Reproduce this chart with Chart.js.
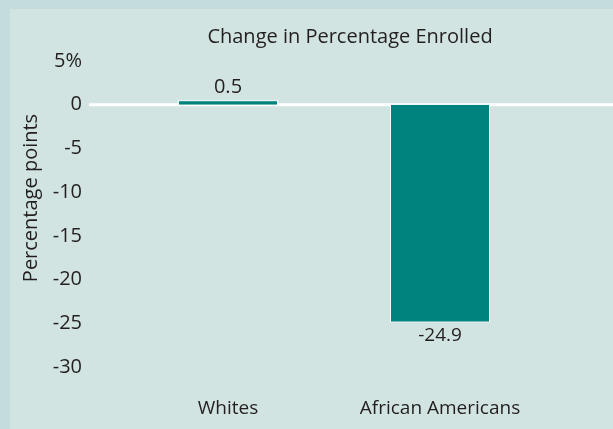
<!DOCTYPE html>
<html>
<head>
<meta charset="utf-8">
<script src="https://cdn.jsdelivr.net/npm/chart.js@4"></script>
<style>
  html, body { margin: 0; padding: 0; background: #c4dcdb; }
  #wrap { width: 613px; height: 429px; position: relative; }
</style>
</head>
<body>
<div id="wrap"><canvas id="my-chart" width="613" height="429"></canvas></div>
<script>
// Data
const categories = ["Whites", "African Americans"];
const changeValues = [0.5, -24.9];
const valueLabels = ["0.5", "-24.9"];
const yTicks = [5, 0, -5, -10, -15, -20, -25, -30];

const chartTitle = "Change in Percentage Enrolled";
const yTitle = "Percentage points";

const textColor = "#231f20";
const barColor = "#00837e";
const fontFamily = "'Open Sans', sans-serif";

// background, zero line, titles and value labels
const decorations = {
	id: "decorations",
	beforeDraw(chart) {
		const c = chart.ctx;
		c.save();
		c.fillStyle = "#c4dcdb";
		c.fillRect(0, 0, chart.width, chart.height);
		c.fillStyle = "#d1e4e2";
		c.fillRect(10, 9, chart.width - 10, chart.height - 9);
		c.restore();
	},
	beforeDatasetsDraw(chart) {
		const c = chart.ctx;
		const y0 = chart.scales.y.getPixelForValue(0);
		c.save();
		c.strokeStyle = "#ffffff";
		c.lineWidth = 3;
		c.beginPath();
		c.moveTo(89, y0);
		c.lineTo(chart.width, y0);
		c.stroke();
		c.restore();
	},
	afterDatasetsDraw(chart) {
		const c = chart.ctx;
		c.save();
		c.fillStyle = textColor;
		c.textAlign = "center";
		chart.getDatasetMeta(0).data.forEach((bar, i) => {
			if (changeValues[i] >= 0) {
				c.font = "20px " + fontFamily;
				c.textBaseline = "bottom";
				c.fillText(valueLabels[i], bar.x, bar.y - 3);
			} else {
				c.font = "19px " + fontFamily;
				c.textBaseline = "top";
				c.fillText(valueLabels[i], bar.x, bar.y + 4);
			}
		});

		c.textBaseline = "middle";
		c.font = "20px " + fontFamily;
		c.fillText(chartTitle, 350, 37);

		c.translate(31, 198);
		c.rotate(-Math.PI / 2);
		c.font = "20px " + fontFamily;
		c.fillText(yTitle, 0, 0);
		c.restore();
	},
};

const ctx = document.getElementById("my-chart").getContext("2d");

new Chart(ctx, {
	type: "bar",
	data: {
		labels: categories,
		datasets: [
			{
				data: changeValues,
				backgroundColor: barColor,
				borderColor: "#ffffff",
				borderWidth: 1,
				categoryPercentage: 1,
				barPercentage: 0.472,
			},
		],
	},
	options: {
		responsive: false,
		animation: false,
		layout: {
			padding: { top: 61, right: 67, bottom: 0, left: 0 },
		},
		plugins: {
			legend: { display: false },
			tooltip: { enabled: false },
		},
		scales: {
			x: {
				grid: { display: false, drawTicks: false },
				border: { display: false },
				ticks: {
					color: textColor,
					font: { family: fontFamily, size: 19 },
					padding: 30,
					maxRotation: 0,
				},
				afterFit(scale) {
					scale.height = 62;
				},
			},
			y: {
				min: -30,
				max: 5,
				grid: { display: false, drawTicks: false },
				border: { display: false },
				afterBuildTicks(scale) {
					scale.ticks = yTicks.map((v) => ({ value: v }));
				},
				ticks: {
					color: textColor,
					font: { family: fontFamily, size: 20 },
					padding: 40,
					callback: (v) => (v === 5 ? "5%" : String(v)),
				},
				afterFit(scale) {
					scale.width = 122;
				},
			},
		},
	},
	plugins: [decorations],
});
</script>
</body>
</html>
